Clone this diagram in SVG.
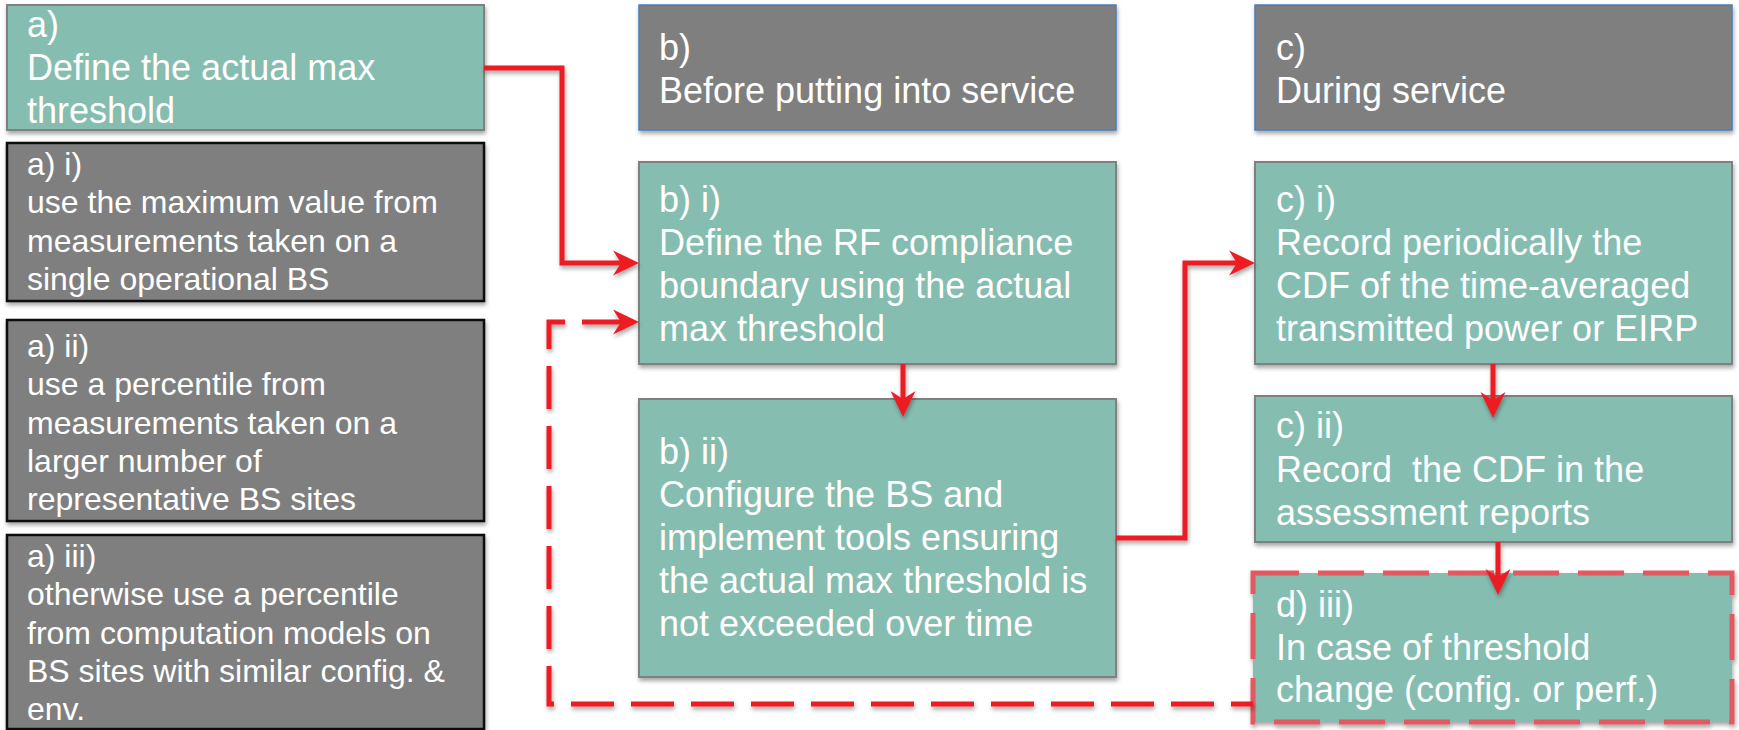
<svg xmlns="http://www.w3.org/2000/svg" width="1739" height="730" viewBox="0 0 1739 730">
<defs>
<style>
.teal{fill:#85bdb0;stroke:#808080;stroke-width:2}
.gray{fill:#7f7f7f;stroke:#111;stroke-width:2.5}
.head{fill:#7f7f7f;stroke:#4a7ebb;stroke-width:1.5}
.t{font-family:"Liberation Sans",Arial,sans-serif;fill:#fff}
.big{font-size:36px}
.small{font-size:32px}
.conn{fill:none;stroke:#ed1c24;stroke-width:5}
.dash{stroke-dasharray:43 17}
.dbox{fill:#85bdb0;stroke:#e05a62;stroke-width:5;stroke-dasharray:46 19}
</style>
<filter id="sh" x="-5%" y="-10%" width="110%" height="125%">
<feDropShadow dx="1" dy="3" stdDeviation="2" flood-color="#000" flood-opacity="0.35"/>
</filter>
<marker id="ah" viewBox="0 0 26 26" refX="12" refY="13" markerWidth="26" markerHeight="26" markerUnits="userSpaceOnUse" orient="auto-start-reverse">
<path d="M0,0.5 L26,13 L0,25.5 L8,13 Z" fill="#ed1c24"/>
</marker>
</defs>

<g id="node-a">
<rect class="teal" x="7" y="5" width="477" height="125" filter="url(#sh)"/>
<text class="t big"><tspan x="27" y="37">a)</tspan><tspan x="27" y="80">Define the actual max</tspan><tspan x="27" y="123">threshold</tspan></text>
</g>

<g id="node-a-i">
<rect class="gray" x="7" y="143" width="477" height="158" filter="url(#sh)"/>
<text class="t small"><tspan x="27" y="175">a) i)</tspan><tspan x="27" y="213">use the maximum value from</tspan><tspan x="27" y="252">measurements taken on a</tspan><tspan x="27" y="290">single operational BS</tspan></text>
</g>

<g id="node-a-ii">
<rect class="gray" x="7" y="320" width="477" height="201" filter="url(#sh)"/>
<text class="t small"><tspan x="27" y="357">a) ii)</tspan><tspan x="27" y="395">use a percentile from</tspan><tspan x="27" y="434">measurements taken on a</tspan><tspan x="27" y="472">larger number of</tspan><tspan x="27" y="510">representative BS sites</tspan></text>
</g>

<g id="node-a-iii">
<rect class="gray" x="7" y="535" width="477" height="194" filter="url(#sh)"/>
<text class="t small"><tspan x="27" y="567">a) iii)</tspan><tspan x="27" y="605">otherwise use a percentile</tspan><tspan x="27" y="644">from computation models on</tspan><tspan x="27" y="682">BS sites with similar config. &amp;</tspan><tspan x="27" y="720">env.</tspan></text>
</g>

<g id="node-b">
<rect class="head" x="639" y="5" width="477" height="125" filter="url(#sh)"/>
<text class="t big"><tspan x="659" y="60">b)</tspan><tspan x="659" y="103">Before putting into service</tspan></text>
</g>

<g id="node-b-i">
<rect class="teal" x="639" y="162" width="477" height="202" filter="url(#sh)"/>
<text class="t big"><tspan x="659" y="212">b) i)</tspan><tspan x="659" y="255">Define the RF compliance</tspan><tspan x="659" y="298">boundary using the actual</tspan><tspan x="659" y="341">max threshold</tspan></text>
</g>

<g id="node-b-ii">
<rect class="teal" x="639" y="399" width="477" height="278" filter="url(#sh)"/>
<text class="t big"><tspan x="659" y="464">b) ii)</tspan><tspan x="659" y="507">Configure the BS and</tspan><tspan x="659" y="550">implement tools ensuring</tspan><tspan x="659" y="593">the actual max threshold is</tspan><tspan x="659" y="636">not exceeded over time</tspan></text>
</g>

<g id="node-c">
<rect class="head" x="1255" y="5" width="477" height="125" filter="url(#sh)"/>
<text class="t big"><tspan x="1276" y="60">c)</tspan><tspan x="1276" y="103">During service</tspan></text>
</g>

<g id="node-c-i">
<rect class="teal" x="1255" y="162" width="477" height="202" filter="url(#sh)"/>
<text class="t big"><tspan x="1276" y="212">c) i)</tspan><tspan x="1276" y="255">Record periodically the</tspan><tspan x="1276" y="298">CDF of the time-averaged</tspan><tspan x="1276" y="341">transmitted power or EIRP</tspan></text>
</g>

<g id="node-c-ii">
<rect class="teal" x="1255" y="396" width="477" height="146" filter="url(#sh)"/>
<text class="t big" xml:space="preserve"><tspan x="1276" y="438">c) ii)</tspan><tspan x="1276" y="482">Record  the CDF in the</tspan><tspan x="1276" y="525">assessment reports</tspan></text>
</g>

<g id="node-d-iii">
<rect class="dbox" x="1253" y="573" width="479" height="149" filter="url(#sh)"/>
<text class="t big"><tspan x="1276" y="617">d) iii)</tspan><tspan x="1276" y="660">In case of threshold</tspan><tspan x="1276" y="702">change (config. or perf.)</tspan></text>
</g>

<g id="connectors" filter="url(#sh)">
<path class="conn" d="M484,68 H562 V263 H625" marker-end="url(#ah)"/>
<path class="conn" d="M903,364 V403" marker-end="url(#ah)"/>
<path class="conn" d="M1116,538 H1185 V263 H1241" marker-end="url(#ah)"/>
<path class="conn" d="M1493,364 V404" marker-end="url(#ah)"/>
<path class="conn" d="M1498,542 V581" marker-end="url(#ah)"/>
<path class="conn dash" d="M625,322 H549 V704 H1253" marker-start="url(#ah)"/>
</g>
</svg>
